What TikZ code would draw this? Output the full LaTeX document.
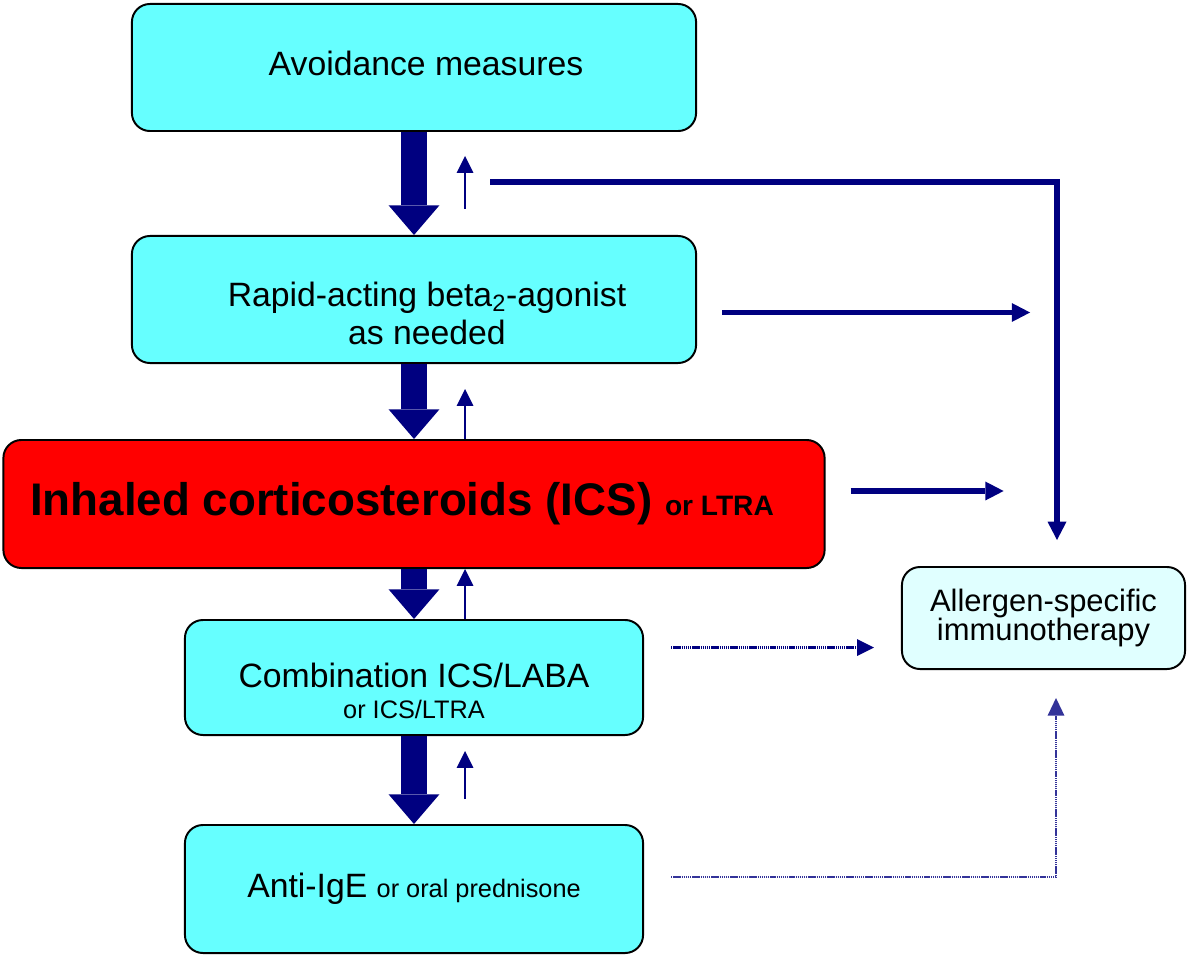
\documentclass[tikz,border=0pt]{standalone}
\usepackage{fontspec}
\setmainfont{Liberation Sans}
\usetikzlibrary{arrows.meta,calc}
\definecolor{navy}{RGB}{0,0,128}
\definecolor{boxcyan}{RGB}{102,255,255}
\definecolor{palecyan}{RGB}{224,255,255}
\definecolor{linkblue}{RGB}{51,51,153}

\begin{document}
\begin{tikzpicture}[x=0.025cm, y=-0.025cm, >=latex,
    box/.style={draw, line width=1.4pt, rounded corners=0.45cm, fill=boxcyan, inner sep=0pt, align=center},
    boxtext/.style={inner sep=0pt, align=center, font=\fontsize{24}{27}\selectfont},
    bigdown/.style={navy, line width=18.5pt, -{Triangle[width=36pt,length=21pt,line width=0pt]}},
    smallup/.style={navy, line width=1.9pt, -{Triangle[width=12pt,length=12pt,line width=0pt]}},
    side/.style={navy, line width=4pt, -{Triangle[width=13.5pt,length=13pt,line width=0pt]}},
    dotside/.style={navy, line width=1.8pt, dash pattern=on 1pt off 0.5pt, -{Triangle[width=12pt,length=12pt,line width=0pt]}},
    dotlink/.style={linkblue, line width=1.4pt, dash pattern=on 1pt off 0.5pt, -{Triangle[width=12pt,length=12.5pt,line width=0pt]}}]
    \useasboundingbox (0,0) rectangle (1200,958);
    \pgfmathsetmacro{\mx}{414}
    \pgfmathsetmacro{\up}{51}

    % treatment steps
    \node[box, minimum width=14.1cm, minimum height=3.175cm] (avoid) at (\mx,67.5) {};
    \node[boxtext] (avoidtxt) at ($(avoid)+(12,-4)$) {Avoidance measures};
    \node[box, minimum width=14.1cm, minimum height=3.175cm] (rapid) at (\mx,299.5) {};
    \node[boxtext] (rapidtxt) at ($(rapid)+(13,14)$) {Rapid-acting beta\textsubscript{2}-agonist\\as needed};
    \node[box, fill=red, minimum width=20.525cm, minimum height=3.2cm, font=\bfseries\fontsize{32.5}{36}\selectfont] (ics) at (\mx,504)
        {Inhaled corticosteroids (ICS) {\fontsize{20}{24}\selectfont or LTRA}\hspace*{0.6cm}};
    \node[box, minimum width=11.45cm, minimum height=2.875cm] (combo) at (\mx,677.5) {};
    \node[boxtext, font=\fontsize{24}{22}\selectfont] (combotxt) at ($(combo)+(0,13)$)
        {Combination ICS/LABA\\{\fontsize{18}{22}\selectfont or ICS/LTRA}};
    \node[box, minimum width=11.45cm, minimum height=3.2cm, font=\fontsize{24}{27}\selectfont] (antige) at (\mx,889)
        {Anti-IgE {\fontsize{18}{22}\selectfont or oral prednisone}};
    \node[box, fill=palecyan, minimum width=7.075cm, minimum height=2.55cm, font=\fontsize{22}{21}\selectfont] (sit) at (1043.5,618)
        {Allergen-specific\\immunotherapy};

    % step up / step down
    \draw[bigdown] (avoid) -- (rapid);
    \draw[bigdown] (rapid) -- (ics);
    \draw[bigdown] (ics) -- (combo);
    \draw[bigdown] (combo) -- (antige);
    \draw[smallup] ($(rapid.north)+(\up,-26)$) -- ($(avoid.south)+(\up,24)$);
    \draw[smallup] ($(ics.north)+(\up,0)$) -- ($(rapid.south)+(\up,25)$);
    \draw[smallup] ($(combo.north)+(\up,0)$) -- ($(ics.south)+(\up,0)$);
    \draw[smallup] ($(antige.north)+(\up,-25)$) -- ($(combo.south)+(\up,15)$);

    % towards immunotherapy
    \coordinate (fbstart) at (490,182);
    \coordinate (fbend) at (1057,540);
    \draw[side] (fbstart) -| (fbend);
    \draw[side] ($(rapid.east)+(25,13)$) -- ++(308,0);
    \draw[side] ($(ics.east)+(25,-13)$) -- ++(153,0);
    \draw[dotside] ($(combo.east)+(27,-30)$) -- ($(sit.west)+(-27,29.5)$);
    \draw[dotlink] ($(antige.east)+(27,-12)$) -| ($(sit.south)+(12.5,28)$);
\end{tikzpicture}
\end{document}
